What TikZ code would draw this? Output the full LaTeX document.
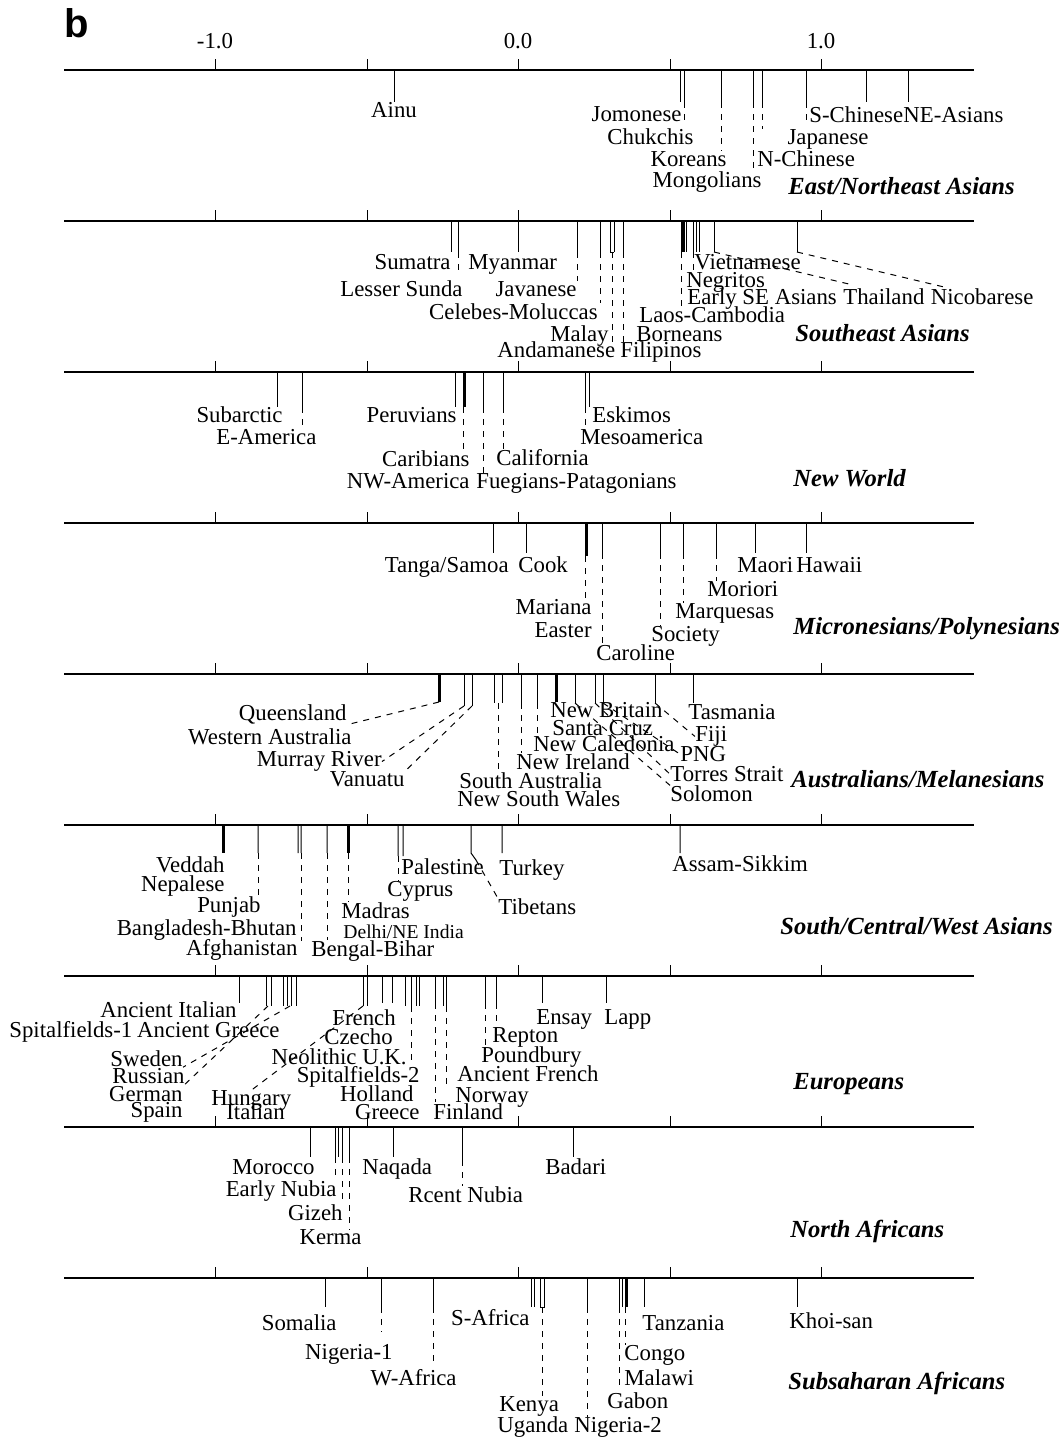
\documentclass[tikz,border=0pt]{standalone}
\usepackage{fontspec}
\setmainfont{Liberation Serif}
\newfontfamily\panelfont{Liberation Sans}
\usetikzlibrary{positioning}

\begin{document}
\begin{tikzpicture}[x=0.5pt,y=-0.5pt,
						axisline/.style={line width=0.8pt},
						stem/.style={line width=0.5pt},
						heavy/.style={line width=1.5pt},
						lead/.style={line width=0.5pt, dash pattern=on 3pt off 3pt},
						lab/.style={inner sep=0pt, font=\fontsize{11.4}{12}\selectfont},
						labl/.style={lab, anchor=mid west},
						labr/.style={lab, anchor=mid east},
						labc/.style={lab, anchor=mid},
						group/.style={inner sep=0pt, anchor=mid west, font=\fontsize{12.3}{13}\selectfont\bfseries\itshape},
						]
						\useasboundingbox (0,0) rectangle (1062,1441);
						\node[anchor=base west, inner sep=0pt, font=\panelfont\bfseries\fontsize{20}{20}\selectfont] (panel) at (64,37) {b};

						%East/Northeast Asians
						\draw[axisline] (64,70) -- (974,70);
						\draw[stem] (215,70) -- (215,59) (367,70) -- (367,59) (518,70) -- (518,59) (670,70) -- (670,59) (821,70) -- (821,59);
						\node[labc]      (tm1) 	at 	(215,44)        {-1.0};
						\node[labc]      (t0) 	at 	(518,44)        {0.0};
						\node[labc]      (t1) 	at 	(821,44)        {1.0};
						\draw[stem] (394,70) -- (394,102) (680,70) -- (680,102) (684,70) -- (684,102) (721,70) -- (721,102) (753,70) -- (753,102) (762,70) -- (762,102) (806,70) -- (806,102) (866,70) -- (866,102) (908,70) -- (908,102);
						\node[labc]      (ainu) 	at 	(394,113)       {Ainu};
						\node[labr]      (jomonese) 	at 	(682,117)       {Jomonese};
						\node[labr]      (chukchis) 	at 	(694,140)       {Chukchis};
						\node[labr]      (koreans) 	at 	(727,162)       {Koreans};
						\node[labr]      (mongolians) 	at 	(762,183)       {Mongolians};
						\node[labl]      (nchinese) 	at 	(757,162)       {N-Chinese};
						\node[labr]      (japanese) 	at 	(869,140)       {Japanese};
						\node[labl]      (schinese) 	at 	(809,118)       {S-Chinese};
						\node[labl]      (neasians) 	at 	(903,118)       {NE-Asians};
						\node[group]     (gEast) 	at 	(788,190)       {East/Northeast Asians};
						\coordinate (sjom) at (684,102);
						\coordinate (skor) at (721,102);
						\coordinate (smon) at (753,102);
						\coordinate (snch) at (762,102);
						\coordinate (ssch) at (806,102);
						\draw[lead] (sjom) -- (sjom |- jomonese.south);
						\draw[lead] (skor) -- (skor |- koreans.north);
						\draw[lead] (smon) -- (smon |- mongolians.north);
						\draw[lead] (snch) -- (snch |- japanese.north);
						\draw[lead] (ssch) -- (ssch |- schinese.south);

						%Southeast Asians
						\draw[axisline] (64,221) -- (974,221);
						\draw[stem] (215,221) -- (215,210) (367,221) -- (367,210) (518,221) -- (518,210) (670,221) -- (670,210) (821,221) -- (821,210);
						\draw[stem] (451,221) -- (451,252) (458,221) -- (458,252) (518,221) -- (518,252) (577,221) -- (577,252) (600,221) -- (600,252) (610,221) -- (610,252) (614,221) -- (614,252) (623,221) -- (623,252) (681,221) -- (681,252) (686,221) -- (686,252) (693,221) -- (693,252) (696,221) -- (696,252) (699,221) -- (699,252) (714,221) -- (714,252) (797,221) -- (797,252);
						\draw[heavy] (683.5,221) -- (683.5,252);
						\draw[stem] (610,252) -- (614,252);
						\node[labr]      (sumatra) 	at 	(451,265)       {Sumatra};
						\node[labl]      (myanmar) 	at 	(468,265)       {Myanmar};
						\node[labr]      (lessersunda) 	at 	(463,292)       {Lesser Sunda};
						\node[labr]      (javanese) 	at 	(577,292)       {Javanese};
						\node[labr]      (celebes) 	at 	(598,315)       {Celebes-Moluccas};
						\node[labr]      (malay) 	at 	(609,337)       {Malay};
						\node[labl]      (andamanese) 	at 	(497,353)       {Andamanese};
						\node[labl]      (borneans) 	at 	(636,337)       {Borneans};
						\node[labl]      (filipinos) 	at 	(620,353)       {Filipinos};
						\node[labl]      (laos) 	at 	(639,318)       {Laos-Cambodia};
						\node[labl]      (vietnamese) 	at 	(694,265)       {Vietnamese};
						\node[labl]      (negritos) 	at 	(686,283)       {Negritos};
						\node[labl]      (earlyse) 	at 	(687,300)       {Early SE Asians};
						\node[lab, base right=2.85pt of earlyse]      (thailand)       {Thailand};
						\node[lab, base right=2.85pt of thailand]      (nicobarese)       {Nicobarese};
						\node[group]     (gSoutheast) 	at 	(795,337)       {Southeast Asians};
						\coordinate (ssum) at (458,252);
						\coordinate (sjav) at (577,252);
						\coordinate (scel) at (600,252);
						\coordinate (smal) at (612,252);
						\coordinate (sbor) at (623,252);
						\coordinate (sneg) at (681,252);
						\coordinate (svie) at (693,252);
						\coordinate (stha) at (714,252);
						\coordinate (snic) at (797,252);
						\coordinate (ethai) at (853,285);
						\coordinate (enico) at (944,287);
						\draw[lead] (ssum) -- (ssum |- sumatra.south);
						\draw[lead] (sjav) -- (sjav |- javanese.north);
						\draw[lead] (scel) -- (scel |- celebes.north);
						\draw[lead] (smal) -- (smal |- malay.south);
						\draw[lead] (sbor) -- (sbor |- borneans.south);
						\draw[lead] (sneg) -- (sneg |- earlyse.south);
						\draw[lead] (svie) -- (svie |- vietnamese.south);
						\draw[lead] (stha) -- (ethai);
						\draw[lead] (snic) -- (enico);

						%New World
						\draw[axisline] (64,372) -- (974,372);
						\draw[stem] (215,372) -- (215,361) (367,372) -- (367,361) (518,372) -- (518,361) (670,372) -- (670,361) (821,372) -- (821,361);
						\draw[stem] (277,372) -- (277,407) (302,372) -- (302,407) (455,372) -- (455,407) (483,372) -- (483,407) (503,372) -- (503,407) (585,372) -- (585,407) (589,372) -- (589,407);
						\draw[heavy] (464,372) -- (464,407);
						\node[labr]      (subarctic) 	at 	(283,418)       {Subarctic};
						\node[labl]      (eamerica) 	at 	(216,440)       {E-America};
						\node[labr]      (peruvians) 	at 	(457,418)       {Peruvians};
						\node[labr]      (caribians) 	at 	(470,462)       {Caribians};
						\node[labr]      (nwamerica) 	at 	(470,484)       {NW-America};
						\node[labl]      (california) 	at 	(496,461)       {California};
						\node[labl]      (fuegians) 	at 	(476,484)       {Fuegians-Patagonians};
						\node[labl]      (eskimos) 	at 	(592,418)       {Eskimos};
						\node[labl]      (mesoamerica) 	at 	(580,440)       {Mesoamerica};
						\node[group]     (gNewWorld) 	at 	(793,482)       {New World};
						\coordinate (seam) at (302,407);
						\coordinate (scar) at (463,407);
						\coordinate (sfue) at (483,407);
						\coordinate (scal) at (503,407);
						\coordinate (sesk) at (585,407);
						\draw[lead] (seam) -- (seam |- eamerica.north);
						\draw[lead] (scar) -- (scar |- caribians.north);
						\draw[lead] (sfue) -- (sfue |- fuegians.north);
						\draw[lead] (scal) -- (scal |- california.north);
						\draw[lead] (sesk) -- (sesk |- mesoamerica.north);

						%Micronesians/Polynesians
						\draw[axisline] (64,523) -- (974,523);
						\draw[stem] (215,523) -- (215,512) (367,523) -- (367,512) (518,523) -- (518,512) (670,523) -- (670,512) (821,523) -- (821,512);
						\draw[stem] (493,523) -- (493,553) (526,523) -- (526,553) (602,523) -- (602,553) (660,523) -- (660,553) (683,523) -- (683,553) (716,523) -- (716,553) (755,523) -- (755,553) (806,523) -- (806,553);
						\draw[heavy] (586,523) -- (586,556);
						\node[labr]      (tanga) 	at 	(509,568)       {Tanga/Samoa};
						\node[labl]      (cook) 	at 	(518,568)       {Cook};
						\node[labr]      (mariana) 	at 	(592,610)       {Mariana};
						\node[labr]      (easter) 	at 	(592,633)       {Easter};
						\node[labl]      (caroline) 	at 	(596,656)       {Caroline};
						\node[labl]      (society) 	at 	(651,637)       {Society};
						\node[labl]      (marquesas) 	at 	(675,614)       {Marquesas};
						\node[labl]      (moriori) 	at 	(707,592)       {Moriori};
						\node[labl]      (maori) 	at 	(737,568)       {Maori};
						\node[labl]      (hawaii) 	at 	(796,568)       {Hawaii};
						\node[group]     (gPolynesia) 	at 	(793,630)       {Micronesians/Polynesians};
						\coordinate (smar) at (585,556);
						\coordinate (scaro) at (602,553);
						\coordinate (ssoc) at (660,553);
						\coordinate (smarq) at (683,553);
						\coordinate (smor) at (716,553);
						\draw[lead] (smar) -- (smar |- mariana.north);
						\draw[lead] (scaro) -- (scaro |- caroline.north);
						\draw[lead] (ssoc) -- (ssoc |- society.north);
						\draw[lead] (smarq) -- (smarq |- marquesas.north);
						\draw[lead] (smor) -- (smor |- moriori.north);

						%Australians/Melanesians
						\draw[axisline] (64,674) -- (974,674);
						\draw[stem] (215,674) -- (215,663) (367,674) -- (367,663) (518,674) -- (518,663) (670,674) -- (670,663) (821,674) -- (821,663);
						\draw[stem] (464,674) -- (464,706) (472,674) -- (472,706) (494,674) -- (494,703) (502,674) -- (502,703) (521,674) -- (521,703) (537,674) -- (537,703) (575,674) -- (575,703) (595,674) -- (595,703) (603,674) -- (603,703) (655,674) -- (655,703) (693,674) -- (693,703);
						\draw[heavy] (439,674) -- (439,702) (556,674) -- (556,702);
						\node[labr]      (queensland) 	at 	(347,716)       {Queensland};
						\node[labr]      (western) 	at 	(352,740)       {Western Australia};
						\node[labr]      (murray) 	at 	(382,762)       {Murray River};
						\node[labr]      (vanuatu) 	at 	(405,782)       {Vanuatu};
						\node[labl]      (southaus) 	at 	(459,784)       {South Australia};
						\node[labl]      (nsw) 	at 	(457,802)       {New South Wales};
						\node[labl]      (newireland) 	at 	(516,765)       {New Ireland};
						\node[labl]      (newcal) 	at 	(533,747)       {New Caledonia};
						\node[labl]      (santacruz) 	at 	(552,731)       {Santa Cruz};
						\node[labl]      (newbritain) 	at 	(550,713)       {New Britain};
						\node[labl]      (tasmania) 	at 	(688,715)       {Tasmania};
						\node[labl]      (fiji) 	at 	(695,737)       {Fiji};
						\node[labl]      (png) 	at 	(680,757)       {PNG};
						\node[labl]      (torres) 	at 	(670,777)       {Torres Strait};
						\node[labl]      (solomon) 	at 	(670,797)       {Solomon};
						\node[group]     (gMelanesia) 	at 	(791,783)       {Australians/Melanesians};
						\coordinate (sque) at (439,702);
						\coordinate (smur) at (464,706);
						\coordinate (svan) at (472,706);
						\coordinate (ssau) at (498,703);
						\coordinate (sire) at (521,703);
						\coordinate (scld) at (537,703);
						\coordinate (ssol) at (575,703);
						\coordinate (stor) at (595,703);
						\coordinate (spng) at (603,703);
						\coordinate (sfij) at (655,703);
						\draw[lead] (sque) -- (queensland.south east);
						\draw[lead] (smur) -- (murray.east);
						\draw[lead] (svan) -- (vanuatu.north east);
						\draw[lead] (ssau) -- (ssau |- southaus.north);
						\draw[lead] (sire) -- (sire |- newireland.north);
						\draw[lead] (scld) -- (scld |- newcal.north);
						\draw[lead] (ssol) -- (solomon.north west);
						\draw[lead] (stor) -- (torres.west);
						\draw[lead] (spng) -- (png.west);
						\draw[lead] (sfij) -- (fiji.west);

						%South/Central/West Asians
						\draw[axisline] (64,825) -- (974,825);
						\draw[stem] (215,825) -- (215,814) (367,825) -- (367,814) (518,825) -- (518,814) (670,825) -- (670,814) (821,825) -- (821,814);
						\draw[stem] (258,825) -- (258,853) (298,825) -- (298,853) (301,825) -- (301,853) (327,825) -- (327,853) (398,825) -- (398,856) (403,825) -- (403,856) (471,825) -- (471,853) -- (476,860) (502,825) -- (502,853) (680,825) -- (680,853);
						\draw[heavy] (223,825) -- (223,853) (348,825) -- (348,853);
						\node[labr]      (veddah) 	at 	(225,868)       {Veddah};
						\node[labr]      (nepalese) 	at 	(225,887)       {Nepalese};
						\node[labr]      (punjab) 	at 	(261,908)       {Punjab};
						\node[labr]      (bangladesh) 	at 	(297,931)       {Bangladesh-Bhutan};
						\node[labr]      (afghanistan) 	at 	(298,951)       {Afghanistan};
						\node[labl]      (bengal) 	at 	(311,952)       {Bengal-Bihar};
						\node[labl]      (madras) 	at 	(341,914)       {Madras};
						\node[labl, font=\fontsize{9.8}{10}\selectfont]      (delhi) 	at 	(343,934)       {Delhi/NE India};
						\node[labl]      (palestine) 	at 	(401,870)       {Palestine};
						\node[labl]      (cyprus) 	at 	(387,892)       {Cyprus};
						\node[labl]      (turkey) 	at 	(499,871)       {Turkey};
						\node[labl]      (tibetans) 	at 	(498,910)       {Tibetans};
						\node[labl]      (assam) 	at 	(672,867)       {Assam-Sikkim};
						\node[group]     (gSouthAsia) 	at 	(780,930)       {South/Central/West Asians};
						\coordinate (spun) at (258,853);
						\coordinate (sban) at (301,853);
						\coordinate (sben) at (327,853);
						\coordinate (smad) at (348,853);
						\coordinate (spal) at (398,856);
						\coordinate (stib) at (476,860);
						\draw[lead] (spun) -- (spun |- punjab.north);
						\draw[lead] (sban) -- (sban |- bangladesh.south);
						\draw[lead] (sben) -- (sben |- bengal.north);
						\draw[lead] (smad) -- (smad |- madras.north);
						\draw[lead] (spal) -- (spal |- cyprus.north);
						\draw[lead] (stib) -- (tibetans.north west);

						%Europeans
						\draw[axisline] (64,976) -- (974,976);
						\draw[stem] (215,976) -- (215,965) (367,976) -- (367,965) (518,976) -- (518,965) (670,976) -- (670,965) (821,976) -- (821,965);
						\draw[stem] (239,976) -- (239,1003) (266,976) -- (266,1006) (271,976) -- (271,1006) (283,976) -- (283,1006) (287,976) -- (287,1006) (291,976) -- (291,1006) (296,976) -- (296,1006) (363,976) -- (363,1006) (367,976) -- (367,1006) (382,976) -- (382,1003) (392,976) -- (392,1003) (405,976) -- (405,1006) (411,976) -- (411,1006) (416,976) -- (416,1006) (419,976) -- (419,1006) (435,976) -- (435,1003) (443,976) -- (443,1006) (446,976) -- (446,1006) (485,976) -- (485,1003) (496,976) -- (496,1003) (542,976) -- (542,1003) (606,976) -- (606,1003);
						\node[labr]      (ancitalian) 	at 	(237,1013)      {Ancient Italian};
						\node[labl]      (spit1) 	at 	(9,1033)        {Spitalfields-1};
						\node[labr]      (ancgreece) 	at 	(280,1033)      {Ancient Greece};
						\node[labl]      (french) 	at 	(332,1021)      {French};
						\node[labl]      (czecho) 	at 	(324,1040)      {Czecho};
						\node[labr]      (neolithic) 	at 	(407,1060)      {Neolithic U.K.};
						\node[labr]      (spit2) 	at 	(420,1078)      {Spitalfields-2};
						\node[labr]      (holland) 	at 	(414,1097)      {Holland};
						\node[labr]      (greece) 	at 	(420,1115)      {Greece};
						\node[labl]      (finland) 	at 	(433,1115)      {Finland};
						\node[labl]      (ensay) 	at 	(536,1020)      {Ensay};
						\node[labl]      (lapp) 	at 	(604,1020)      {Lapp};
						\node[labl]      (repton) 	at 	(492,1038)      {Repton};
						\node[labl]      (poundbury) 	at 	(481,1058)      {Poundbury};
						\node[labl]      (ancfrench) 	at 	(457,1077)      {Ancient French};
						\node[labl]      (norway) 	at 	(455,1098)      {Norway};
						\node[labr]      (sweden) 	at 	(183,1062)      {Sweden};
						\node[labr]      (russian) 	at 	(185,1079)      {Russian};
						\node[labr]      (german) 	at 	(183,1097)      {German};
						\node[labr]      (spain) 	at 	(183,1113)      {Spain};
						\node[labl]      (hungary) 	at 	(211,1101)      {Hungary};
						\node[labl]      (italian) 	at 	(226,1115)      {Italian};
						\node[group]     (gEurope) 	at 	(793,1085)      {Europeans};
						\coordinate (srus) at (268,1006);
						\coordinate (sswe) at (290,1006);
						\coordinate (shun) at (363,1006);
						\coordinate (sneo) at (411,1006);
						\coordinate (shol) at (435,1003);
						\coordinate (sspi) at (446,1006);
						\coordinate (srep) at (485,1003);
						\coordinate (spou) at (496,1003);
						\draw[lead] (srus) -- (russian.south east);
						\draw[lead] (sswe) -- (sweden.south east);
						\draw[lead] (shun) -- (hungary.north);
						\draw[lead] (sneo) -- (sneo |- neolithic.south);
						\draw[lead] (shol) -- (shol |- holland.south);
						\draw[lead] (sspi) -- (sspi |- spit2.south);
						\draw[lead] (srep) -- (srep |- repton.south);
						\draw[lead] (spou) -- (spou |- french.south);

						%North Africans
						\draw[axisline] (64,1127) -- (974,1127);
						\draw[stem] (215,1127) -- (215,1116) (367,1127) -- (367,1116) (518,1127) -- (518,1116) (670,1127) -- (670,1116) (821,1127) -- (821,1116);
						\draw[stem] (310,1127) -- (310,1157) (335,1127) -- (335,1157) (338,1127) -- (338,1157) (342,1127) -- (342,1157) (349,1127) -- (349,1157) (393,1127) -- (393,1157) (462,1127) -- (462,1160) (573,1127) -- (573,1157);
						\node[labr]      (morocco) 	at 	(315,1170)      {Morocco};
						\node[labr]      (earlynubia) 	at 	(337,1192)      {Early Nubia};
						\node[labr]      (gizeh) 	at 	(343,1216)      {Gizeh};
						\node[labr]      (kerma) 	at 	(362,1240)      {Kerma};
						\node[labl]      (naqada) 	at 	(362,1170)      {Naqada};
						\node[labl]      (rcent) 	at 	(408,1198)      {Rcent Nubia};
						\node[labl]      (badari) 	at 	(545,1170)      {Badari};
						\node[group]     (gNorthAfrica) 	at 	(790,1233)      {North Africans};
						\coordinate (senu) at (335,1157);
						\coordinate (sgiz) at (342,1157);
						\coordinate (sker) at (349,1157);
						\coordinate (srcn) at (462,1160);
						\draw[lead] (senu) -- (senu |- earlynubia.north);
						\draw[lead] (sgiz) -- (sgiz |- gizeh.north);
						\draw[lead] (sker) -- (sker |- kerma.north);
						\draw[lead] (srcn) -- (srcn |- rcent.north);

						%Subsaharan Africans
						\draw[axisline] (64,1278) -- (974,1278);
						\draw[stem] (215,1278) -- (215,1267) (367,1278) -- (367,1267) (518,1278) -- (518,1267) (670,1278) -- (670,1267) (821,1278) -- (821,1267);
						\draw[stem] (325,1278) -- (325,1307) (381,1278) -- (381,1307) (433,1278) -- (433,1307) (531,1278) -- (531,1307) (534,1278) -- (534,1307) (540,1278) -- (540,1307) -- (544,1307) -- (544,1278) (587,1278) -- (587,1307) (619,1278) -- (619,1307) (622,1278) -- (622,1307) (644,1278) -- (644,1307) (797,1278) -- (797,1307);
						\draw[heavy] (626.5,1278) -- (626.5,1307);
						\node[labr]      (somalia) 	at 	(337,1326)      {Somalia};
						\node[labr]      (nigeria1) 	at 	(393,1355)      {Nigeria-1};
						\node[labr]      (wafrica) 	at 	(457,1381)      {W-Africa};
						\node[labr]      (safrica) 	at 	(530,1321)      {S-Africa};
						\node[labl]      (kenya) 	at 	(499,1407)      {Kenya};
						\node[labl]      (uganda) 	at 	(497,1428)      {Uganda};
						\node[labl]      (nigeria2) 	at 	(574,1428)      {Nigeria-2};
						\node[labl]      (gabon) 	at 	(607,1404)      {Gabon};
						\node[labl]      (congo) 	at 	(624,1356)      {Congo};
						\node[labl]      (malawi) 	at 	(624,1381)      {Malawi};
						\node[labl]      (tanzania) 	at 	(642,1326)      {Tanzania};
						\node[labl]      (khoisan) 	at 	(789,1324)      {Khoi-san};
						\node[group]     (gSubsahara) 	at 	(788,1385)      {Subsaharan Africans};
						\coordinate (snig1) at (381,1307);
						\coordinate (swaf) at (433,1307);
						\coordinate (sken) at (542,1307);
						\coordinate (snig2) at (587,1307);
						\coordinate (smlw) at (619,1307);
						\coordinate (scon) at (625,1307);
						\draw[lead] (snig1) -- (snig1 |- somalia.south);
						\draw[lead] (swaf) -- (swaf |- nigeria1.south);
						\draw[lead] (sken) -- (sken |- kenya.north);
						\draw[lead] (snig2) -- (snig2 |- nigeria2.north);
						\draw[lead] (smlw) -- (smlw |- malawi.south);
						\draw[lead] (scon) -- (scon |- congo.north);
					\end{tikzpicture}
\end{document}
